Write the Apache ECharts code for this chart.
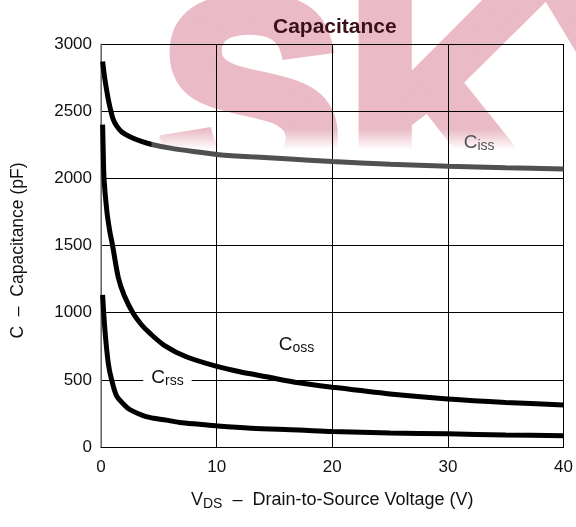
<!DOCTYPE html>
<html>
<head>
<meta charset="utf-8">
<script src="https://cdn.jsdelivr.net/npm/echarts@6/dist/echarts.min.js"></script>
<style>
  html, body { margin: 0; padding: 0; background: #fff; }
  #wrap { position: relative; width: 576px; height: 527px; overflow: hidden; }
  #wm {
    position: absolute; left: 0; top: 0; width: 576px; height: 150px; overflow: hidden;
    -webkit-mask-image: linear-gradient(to bottom, #000 86%, transparent 100%);
    mask-image: linear-gradient(to bottom, #000 86%, transparent 100%);
  }
  #wm span {
    position: absolute; left: 160px; top: -40px;
    font: bold 272px/272px "Liberation Sans", Arial, sans-serif;
    letter-spacing: 6px; color: #eabac6; white-space: nowrap;
    -webkit-text-stroke: 14px #eabac6;
  }
  #main { position: absolute; left: 0; top: 0; width: 576px; height: 527px; }
</style>
</head>
<body>
<div id="wrap">
  <div id="wm"><span>SKY</span></div>
  <div id="main"></div>
</div>
<script>
// values, [VDS (V), C (pF)]
var cissData = [[0.14,2870],[0.3,2760],[0.48,2660],[0.65,2580],[0.83,2510],[1.05,2440],[1.35,2390],[1.8,2345],[2.5,2310],[3.5,2275],[4.5,2250],[6,2225],[8,2200],[10,2178],[13,2160],[16,2145],[20,2125],[25,2105],[30,2090],[35,2078],[40,2070]];
var cossData = [[0.14,2400],[0.2,2180],[0.26,2000],[0.5,1760],[0.75,1610],[1.0,1500],[1.5,1260],[2.0,1130],[2.78,995],[3.5,910],[4.22,847],[5.5,755],[7.37,672],[10.1,598],[12,560],[14.3,523],[17.1,478],[20,445],[25,395],[30,358],[35,332],[40,313]];
var crssData = [[0.14,1132],[0.34,870],[0.63,623],[0.92,499],[1.35,380],[2.0,315],[2.5,278],[3.9,226],[5.65,200],[6.8,183],[8.5,169],[10.1,156],[13,140],[17.1,127],[20,115],[25,105],[30,98],[35,90],[40,84]];

// curve labels: [x, y, letter, subscript, colour]
var curveLabels = [
  [32.7, 2264, 'C', 'iss', '#555'],
  [16.9, 760, 'C', 'oss', '#111'],
  [5.75, 514, 'C', 'rss', '#111']
];

var myChart = echarts.init(document.getElementById('main'));
var font = 'Liberation Sans, Arial, sans-serif';

var option = {
  animation: false,
  backgroundColor: 'transparent',
  textStyle: { fontFamily: font },
  title: {
    text: 'Capacitance',
    left: 268,
    top: 12,
    textStyle: { fontSize: 21, fontWeight: 'bold', color: '#3a1019', fontFamily: font }
  },
  grid: { left: 101, right: 10, top: 44, bottom: 80 },
  xAxis: {
    type: 'value',
    min: 0,
    max: 40,
    interval: 10,
    name: '{v|V}{sub|DS}{t|  –  Drain-to-Source Voltage (V)}',
    nameLocation: 'middle',
    nameGap: 42,
    nameTextStyle: {
      rich: {
        v: { fontSize: 18, color: '#111', fontFamily: font },
        sub: { fontSize: 14, color: '#111', fontFamily: font, padding: [8, 0, 0, 0] },
        t: { fontSize: 18, color: '#111', fontFamily: font }
      }
    },
    axisLine: { show: true, lineStyle: { color: '#000', width: 1 } },
    axisTick: { show: false },
    axisLabel: { fontSize: 17, color: '#111', margin: 12, formatter: function (v) { return String(v); } },
    splitLine: { show: true, lineStyle: { color: '#000', width: 1 } }
  },
  yAxis: {
    type: 'value',
    min: 0,
    max: 3000,
    interval: 500,
    name: 'C  –  Capacitance (pF)',
    nameLocation: 'middle',
    nameGap: 74,
    nameTextStyle: { fontSize: 17.5, color: '#111', padding: [0, 10, 0, 0] },
    axisLine: { show: true, lineStyle: { color: '#888', width: 1.5 } },
    axisTick: { show: false },
    axisLabel: { fontSize: 17, color: '#111', margin: 9, formatter: function (v) { return String(v); } },
    splitLine: { show: true, lineStyle: { color: '#000', width: 1 } }
  },
  series: [
    {
      name: 'Ciss',
      type: 'line',
      data: cissData,
      showSymbol: false,
      smooth: 0.3,
      lineStyle: {
        width: 5,
        color: new echarts.graphic.LinearGradient(0, 0, 1, 0, [
          { offset: 0, color: '#000' },
          { offset: 0.108, color: '#000' },
          { offset: 0.112, color: '#505050' },
          { offset: 1, color: '#505050' }
        ])
      },
      z: 5
    },
    {
      name: 'Coss',
      type: 'line',
      data: cossData,
      showSymbol: false,
      smooth: 0.3,
      lineStyle: { width: 5, color: '#000' },
      z: 5
    },
    {
      name: 'Crss',
      type: 'line',
      data: crssData,
      showSymbol: false,
      smooth: 0.3,
      lineStyle: { width: 5, color: '#000' },
      z: 5
    }
  ]
};

myChart.setOption(option);

// curve labels placed through the axes
var graphics = [];
curveLabels.forEach(function (l) {
  var p = myChart.convertToPixel({ gridIndex: 0 }, [l[0], l[1]]);
  graphics.push({
    type: 'text',
    x: p[0],
    y: p[1],
    z: 20,
    style: {
      text: '{c|' + l[2] + '}{s|' + l[3] + '}',
      align: 'center',
      verticalAlign: 'middle',
      backgroundColor: l[3] === 'rss' ? '#fff' : 'transparent',
      padding: l[3] === 'rss' ? [2, 8, 2, 8] : 0,
      rich: {
        c: { fontSize: 19, fill: l[4], fontFamily: font },
        s: { fontSize: 14, fill: l[4], fontFamily: font, padding: [7, 0, 0, 0] }
      }
    }
  });
});

myChart.setOption({ graphic: graphics });
</script>
</body>
</html>
